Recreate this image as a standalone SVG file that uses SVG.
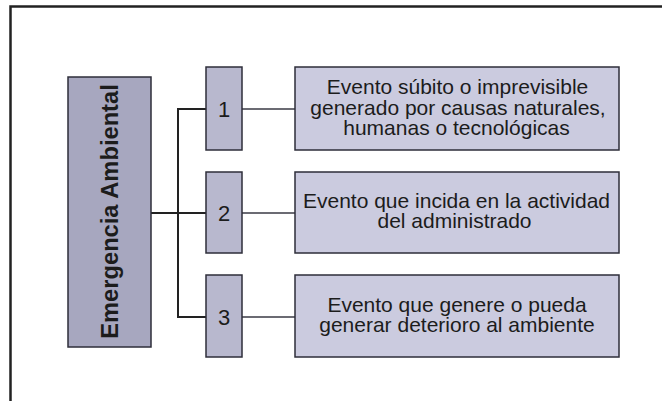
<svg xmlns="http://www.w3.org/2000/svg" width="662" height="401" viewBox="0 0 662 401">
<style>
.big{fill:#a7a7bf;stroke:#2e2e3a;stroke-width:1.5}
.num{fill:#b8b8ce;stroke:#2e2e3a;stroke-width:1.5}
.desc{fill:#cbcbdf;stroke:#2e2e3a;stroke-width:1.5}
.t{font-family:"Liberation Sans",Arial,sans-serif;fill:#1c1c1c;text-anchor:middle}
.d{font-size:21px}
.n{font-size:22px}
.c{fill:none;stroke:#222;stroke-width:2}
.c2{fill:none;stroke:#3a3a44;stroke-width:1.6}
</style>
<rect width="662" height="401" fill="#ffffff"/>
<path d="M10.5,401 V6.5 H662" fill="none" stroke="#222" stroke-width="2.5"/>
<g id="connectors">
<path class="c" d="M151,213 H206"/>
<path class="c" d="M206,109 H178 V317 H206"/>
<path class="c2" d="M242,109 H295"/>
<path class="c2" d="M242,213 H295"/>
<path class="c2" d="M242,317 H295"/>
</g>
<g id="emergencia">
<rect class="big" x="68" y="77" width="83" height="270"/>
<text class="t" font-size="23.7" font-weight="bold" transform="translate(118,211.5) rotate(-90)" x="0" y="0">Emergencia Ambiental</text>
</g>
<g id="n1">
<rect class="num" x="206" y="67" width="36" height="83"/>
<text class="t n" x="224" y="117">1</text>
</g>
<g id="n2">
<rect class="num" x="206" y="172" width="36" height="81"/>
<text class="t n" x="224" y="221">2</text>
</g>
<g id="n3">
<rect class="num" x="206" y="275" width="36" height="82"/>
<text class="t n" x="224" y="325">3</text>
</g>
<g id="d1">
<rect class="desc" x="295" y="67" width="324" height="83"/>
<text class="t d" x="457.5" y="94">Evento súbito o imprevisible</text>
<text class="t d" x="458" y="114.5">generado por causas naturales,</text>
<text class="t d" x="456.5" y="135">humanas o tecnológicas</text>
</g>
<g id="d2">
<rect class="desc" x="295" y="172" width="324" height="81"/>
<text class="t d" x="456.5" y="208">Evento que incida en la actividad</text>
<text class="t d" x="454.5" y="228">del administrado</text>
</g>
<g id="d3">
<rect class="desc" x="295" y="275" width="324" height="82"/>
<text class="t d" x="457" y="312">Evento que genere o pueda</text>
<text class="t d" x="457" y="332">generar deterioro al ambiente</text>
</g>
</svg>
